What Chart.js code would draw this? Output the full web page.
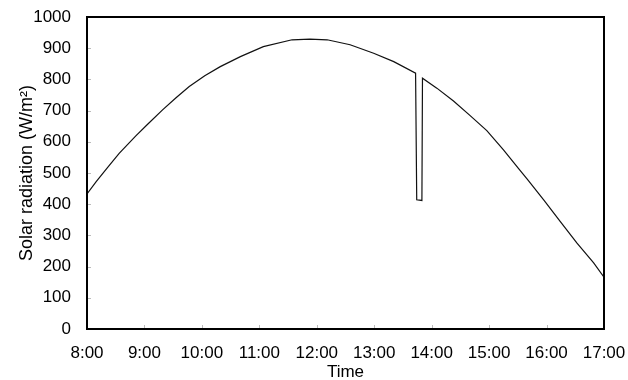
<!DOCTYPE html>
<html>
<head>
<meta charset="utf-8">
<script src="https://cdn.jsdelivr.net/npm/chart.js@4"></script>
<style>
  html, body { margin: 0; padding: 0; background: #fff; }
  #wrap { width: 628px; height: 380px; position: relative; }
</style>
</head>
<body>
<div id="wrap"><canvas id="solarChart"></canvas></div>
<script>
// time of day in decimal hours
const times = [8.00, 8.16, 8.36, 8.56, 8.85, 9.06, 9.32, 9.55, 9.78, 10.05,
    10.32, 10.67, 11.07, 11.57, 11.88, 12.18, 12.58, 12.99, 13.34, 13.72,
    13.74, 13.83, 13.84, 14.09, 14.38, 14.67, 14.96, 15.25, 15.51, 15.66,
    15.95, 16.24, 16.53, 16.82, 17.00];
// solar radiation (W/m2)
const radiation = [433, 472, 518, 563, 619, 657, 703, 741, 777, 812,
    841, 873, 905, 927, 929, 927, 911, 884, 857, 820,
    414, 412, 804, 772, 731, 684, 636, 574, 515, 481,
    414, 344, 275, 212, 166];
const hourTicks = [8, 9, 10, 11, 12, 13, 14, 15, 16, 17];
const yTicks = [0, 100, 200, 300, 400, 500, 600, 700, 800, 900, 1000];

const FONT = 'Liberation Sans, Arial, sans-serif';

// frame round the plot plus the small inward tick marks
const framePlugin = {
    id: 'frame',
    afterDatasetsDraw(chart) {
        const { ctx, chartArea: a, scales } = chart;
        ctx.save();
        ctx.strokeStyle = '#bbb';
        ctx.lineWidth = 1;
        yTicks.forEach(v => {
            const y = Math.round(scales.y.getPixelForValue(v)) + 0.5;
            ctx.beginPath(); ctx.moveTo(a.left, y); ctx.lineTo(a.left + 4, y); ctx.stroke();
        });
        hourTicks.forEach(h => {
            const x = Math.round(scales.x.getPixelForValue(h)) + 0.5;
            ctx.beginPath(); ctx.moveTo(x, a.bottom); ctx.lineTo(x, a.bottom - 4); ctx.stroke();
        });
        ctx.strokeStyle = '#000';
        ctx.lineWidth = 2;
        ctx.strokeRect(a.left, a.top, a.right - a.left, a.bottom - a.top);
        ctx.restore();
    }
};

new Chart(document.getElementById('solarChart'), {
    type: 'line',
    data: {
        datasets: [{
            data: times.map((t, i) => ({ x: t, y: radiation[i] })),
            borderColor: '#111',
            borderWidth: 1.2,
            pointRadius: 0,
            tension: 0,
            fill: false
        }]
    },
    options: {
        responsive: true,
        maintainAspectRatio: false,
        animation: false,
        layout: { padding: { top: 17, right: 24, left: 0, bottom: 0 } },
        plugins: { legend: { display: false }, tooltip: { enabled: false } },
        scales: {
            x: {
                type: 'linear',
                min: 8, max: 17,
                afterBuildTicks: s => { s.ticks = hourTicks.map(v => ({ value: v })); },
                afterFit: s => { s.height = 51; s.paddingLeft = 0; s.paddingRight = 0; },
                grid: { display: false, drawTicks: false },
                border: { display: false },
                ticks: {
                    color: '#000', padding: 14, maxRotation: 0, autoSkip: false,
                    font: { family: FONT, size: 17 },
                    callback: v => v + ':00'
                },
                title: {
                    display: true, text: 'Time', color: '#000',
                    font: { family: FONT, size: 17 },
                    padding: { top: 0, bottom: -3 }
                }
            },
            y: {
                min: 0, max: 1000,
                afterBuildTicks: s => { s.ticks = yTicks.map(v => ({ value: v })); },
                afterFit: s => { s.width = 87; s.paddingTop = 0; s.paddingBottom = 0; },
                grid: { display: false, drawTicks: false },
                border: { display: false },
                ticks: {
                    color: '#000', padding: 16,
                    font: { family: FONT, size: 17 },
                    callback: v => String(v)
                },
                title: {
                    display: true, text: 'Solar radiation (W/m²)', color: '#000',
                    font: { family: FONT, size: 18 },
                    padding: { top: 16, bottom: 0 }
                }
            }
        }
    },
    plugins: [framePlugin]
});
</script>
</body>
</html>
